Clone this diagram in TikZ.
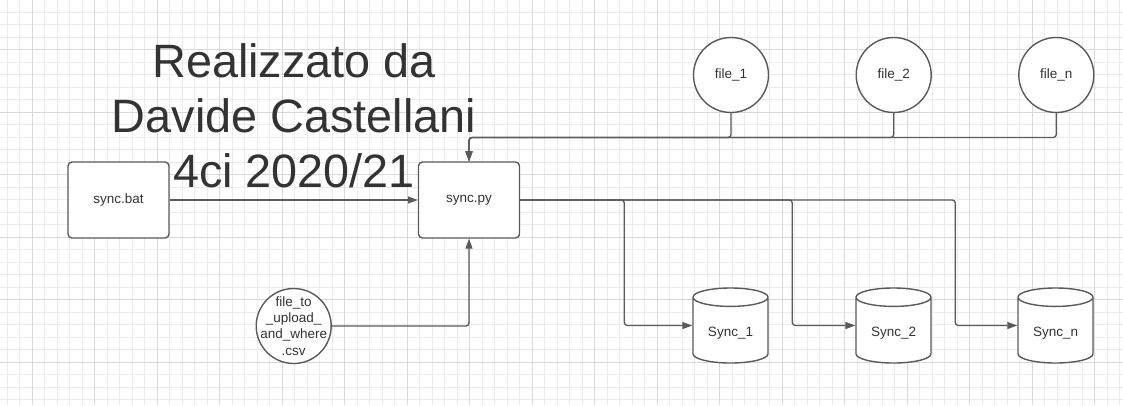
\documentclass[tikz,border=0pt]{standalone}
\usepackage{fontspec}
\setmainfont{Liberation Sans}
\usetikzlibrary{arrows.meta,shapes.geometric}
\definecolor{linegray}{HTML}{5A5A5A}
\definecolor{textgray}{HTML}{333333}
\definecolor{gridminor}{HTML}{EBEBEB}
\definecolor{gridmajor}{HTML}{D9D9D9}
\tikzstyle{block}=[draw=linegray,line width=1.4pt,rounded corners=4pt,fill=white,minimum width=101pt,minimum height=76pt,inner sep=0pt,text=textgray,font=\fontsize{13.5}{16}\selectfont]
\tikzstyle{datafile}=[circle,draw=linegray,line width=1.4pt,fill=white,minimum size=75pt,inner sep=0pt,text=textgray,font=\fontsize{13.5}{16.3}\selectfont]
\tikzstyle{store}=[cylinder,shape border rotate=90,aspect=0.4,draw=linegray,line width=1.4pt,fill=white,minimum width=75pt,minimum height=75pt,inner sep=0pt,anchor=shape center,text width=46pt,align=center,text height=16pt,text depth=3pt,text=textgray,font=\fontsize{13.5}{16}\selectfont]
\tikzstyle{conn}=[draw=linegray,line width=1.3pt,rounded corners=3pt]
\tikzstyle{flow}=[conn,-{Triangle[length=10pt,width=7pt]}]

\begin{document}
\begin{tikzpicture}[x=1pt,y=-1pt]
\useasboundingbox[fill=white] (0,0) rectangle (1123,405);
% grid
\foreach \gx in {0,...,89} \draw[gridminor,line width=1pt] ({7.3+12.5*\gx},0) -- ({7.3+12.5*\gx},405);
\foreach \gy in {0,...,31} \draw[gridminor,line width=1pt] (0,{12.2+12.5*\gy}) -- (1123,{12.2+12.5*\gy});
\foreach \gx in {0,...,17} \draw[gridmajor,line width=1.1pt] ({32.3+62.5*\gx},0) -- ({32.3+62.5*\gx},405);
\foreach \gy in {0,...,6} \draw[gridmajor,line width=1.1pt] (0,{49.7+62.5*\gy}) -- (1123,{49.7+62.5*\gy});

\node[text=textgray,align=center,inner sep=0pt,font=\fontsize{46.8}{55}\selectfont] (title) at (294,116) {Realizzato da\\Davide Castellani\\4ci 2020/21};

\node[block] at (118.5,200) (bat) {sync.bat};
\node[block] at (469,200) (py) {sync.py};

\node[datafile] at (731,75) (f1) {file\_1};
\node[datafile] at (893.7,75) (f2) {file\_2};
\node[datafile] at (1056.3,75) (fn) {file\_n};
\node[datafile,align=center,inner sep=-9pt] at (293.7,326) (csv) {file\_to\\\_upload\_\\and\_where\\.csv};

\node[store] at (730.5,325.5) (s1) {Sync\_1};
\node[store] at (893.5,325.5) (s2) {Sync\_2};
\node[store] at (1055.5,325.5) (sn) {Sync\_n};

\coordinate (bus) at (0,137.5);
\draw[flow] (bat) -- (py);
\draw[flow] (f1.south) -- (f1.south |- bus) -| (py.north);
\draw[flow] (f2.south) -- (f2.south |- bus) -| (py.north);
\draw[flow] (fn.south) -- (fn.south |- bus) -| (py.north);
\draw[flow] (csv.east) -| (py.south);
\draw[flow] (py.east) -| ([xshift=-68pt]s1.shape center -| s1.west) -- (s1.shape center -| s1.west);
\draw[flow] (py.east) -| ([xshift=-63pt]s2.shape center -| s2.west) -- (s2.shape center -| s2.west);
\draw[flow] (py.east) -| ([xshift=-62pt]sn.shape center -| sn.west) -- (sn.shape center -| sn.west);
\end{tikzpicture}
\end{document}
